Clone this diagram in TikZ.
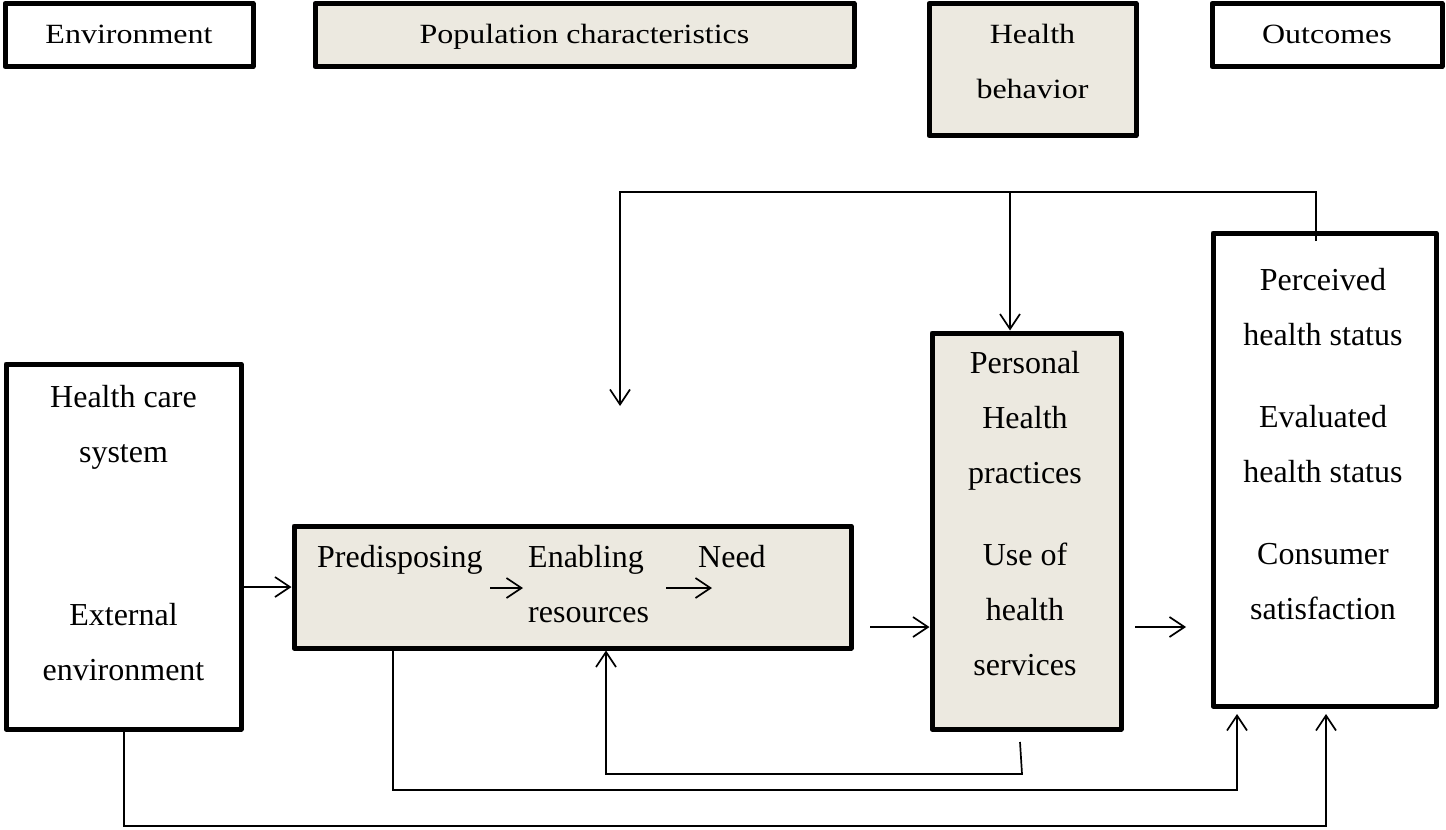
\documentclass[tikz,border=0pt]{standalone}
\usepackage{fontspec}
\usepackage{graphicx}
\setmainfont{Liberation Serif}
\usetikzlibrary{arrows.meta}
\definecolor{boxbeige}{RGB}{236,233,224}
\newcommand{\squish}[1]{\scalebox{1}[0.87]{#1}}
\begin{document}
\begin{tikzpicture}[x=1pt,y=-1pt,
  box/.style={draw=black,line width=5pt,rectangle,inner sep=0pt,line join=round,anchor=center},
  shadedbox/.style={box,fill=boxbeige},
  lbl/.style={font=\fontsize{32}{38}\selectfont,inner sep=0pt,anchor=base},
  lbll/.style={lbl,anchor=base west},
  conn/.style={line width=1.7pt},
  arr/.style={conn,-{Straight Barb[length=15pt,width=20pt]}}]
\useasboundingbox (0,0) rectangle (1446,830);

% top row
\node[box,minimum width=248pt,minimum height=63pt] (env) at (129,35) {};
\node[shadedbox,minimum width=539pt,minimum height=63pt] (pop) at (584.5,35) {};
\node[shadedbox,minimum width=207pt,minimum height=132pt] (hb) at (1032.5,69.5) {};
\node[box,minimum width=230pt,minimum height=63pt] (outc) at (1327,35) {};

\node[lbl] (tenv) at (129,43) {\squish{Environment}};
\node[lbl] (tpop) at (584.5,43) {\squish{Population characteristics}};
\node[lbl] (thb1) at (1032.5,43) {\squish{Health}};
\node[lbl] (thb2) at (1032.5,98) {\squish{behavior}};
\node[lbl] (toutc) at (1327,43) {\squish{Outcomes}};

% main boxes
\node[box,minimum width=235pt,minimum height=365pt] (hcs) at (123.5,546.5) {};
\node[shadedbox,minimum width=557pt,minimum height=122pt] (pred) at (572.5,587) {};
\node[shadedbox,minimum width=189pt,minimum height=396pt] (pers) at (1026.5,531) {};
\node[box,minimum width=223pt,minimum height=473pt] (outt) at (1324.5,469.5) {};

\node[lbl] (h1) at (123.5,407) {Health care};
\node[lbl] (h2) at (123.5,462) {system};
\node[lbl] (h3) at (123.5,625) {External};
\node[lbl] (h4) at (123.5,680) {environment};

\node[lbll] (p1) at (317,567) {Predisposing};
\node[lbll] (p2) at (528,567) {Enabling};
\node[lbll] (p3) at (528,622) {resources};
\node[lbll] (p4) at (698,567) {Need};

\node[lbl] (q1) at (1025,373) {Personal};
\node[lbl] (q2) at (1025,428) {Health};
\node[lbl] (q3) at (1025,483) {practices};
\node[lbl] (q4) at (1025,565) {Use of};
\node[lbl] (q5) at (1025,620) {health};
\node[lbl] (q6) at (1025,675) {services};

\node[lbl] (r1) at (1323,290) {Perceived};
\node[lbl] (r2) at (1323,345) {health status};
\node[lbl] (r3) at (1323,427) {Evaluated};
\node[lbl] (r4) at (1323,482) {health status};
\node[lbl] (r5) at (1323,564) {Consumer};
\node[lbl] (r6) at (1323,619) {satisfaction};

% coordinates for free ends and corners
\coordinate (a1) at (490,588);
\coordinate (a2) at (523,588);
\coordinate (a3) at (666,588);
\coordinate (a4) at (712,588);
\coordinate (pp) at (870,627);
\coordinate (po1) at (1135,627);
\coordinate (po2) at (1186,627);
\coordinate (tl1) at (1316,241);
\coordinate (tl2) at (1316,192);
\coordinate (tl3) at (620,192);
\coordinate (tl4) at (620,406);
\coordinate (br) at (1010,192);
\coordinate (b1a) at (1020,742);
\coordinate (b1b) at (1022,774);
\coordinate (b1c) at (606,774);
\coordinate (b2a) at (393,790);
\coordinate (b2b) at (1237,790);
\coordinate (o1) at (1237,714);
\coordinate (b3a) at (124,826);
\coordinate (b3b) at (1326,826);
\coordinate (o2) at (1326,714);

% connectors
\draw[arr] (hcs.east |- 0,587) -- (pred.west |- 0,587);
\draw[arr] (a1) -- (a2);
\draw[arr] (a3) -- (a4);
\draw[arr] (pp) -- (pers.west |- pp);
\draw[arr] (po1) -- (po2);
\draw[arr] (tl1) -- (tl2) -- (tl3) -- (tl4);
\draw[arr] (br) -- (pers.north -| br);
\draw[arr] (b1a) -- (b1b) -- (b1c) -- (pred.south -| b1c);
\draw[arr] (pred.south -| b2a) -- (b2a) -- (b2b) -- (o1);
\draw[arr] (hcs.south -| b3a) -- (b3a) -- (b3b) -- (o2);
\end{tikzpicture}
\end{document}
